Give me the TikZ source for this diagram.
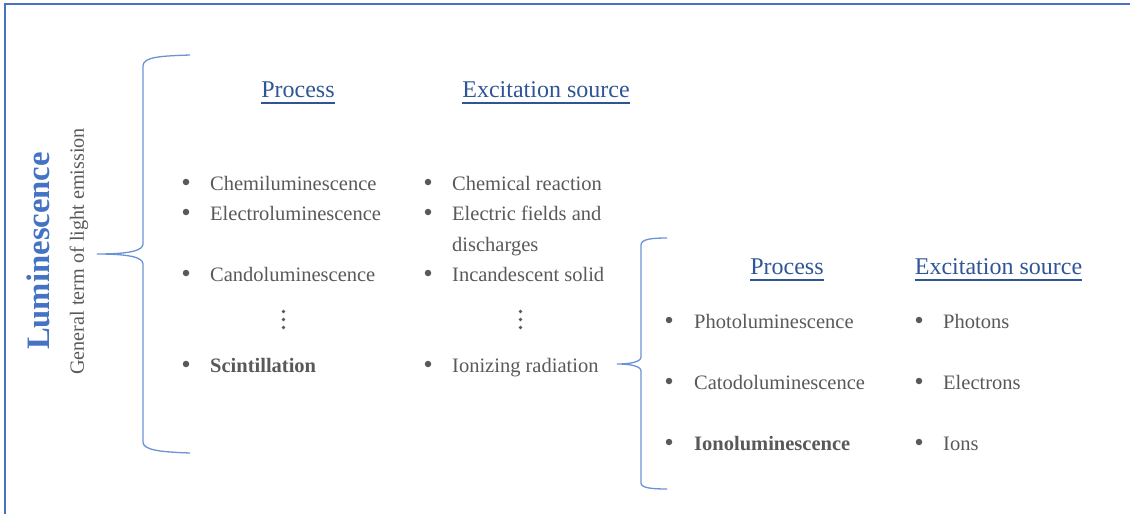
\documentclass[tikz,border=0pt]{standalone}
\usepackage{fontspec}
\setmainfont{Liberation Serif}
\definecolor{gtext}{HTML}{595959}
\definecolor{hblue}{HTML}{2F5597}
\definecolor{lblue}{HTML}{4472C4}
\definecolor{bblue}{HTML}{6C92D6}
\begin{document}
\begin{tikzpicture}[x=1pt,y=-1pt,
  txt/.style={font=\fontsize{20.5}{24}\selectfont, text=gtext, inner sep=0pt, anchor=base west},
  btxt/.style={txt, font=\fontsize{20.5}{24}\selectfont\bfseries},
  head/.style={font=\fontsize{24}{28}\selectfont, text=hblue, inner sep=0pt, anchor=base},
  bul/.style={circle, fill=gtext, inner sep=0pt, minimum size=6.5pt},
  vdot/.style={fill=gtext},
  brace/.style={draw=bblue, line width=1.3pt},
  uline/.style={draw=hblue, line width=2pt},
  frame/.style={draw=lblue, line width=2.2pt}]
\useasboundingbox (0,0) rectangle (1130,514);
\draw[frame] (5,514) -- (5,4) -- (1130,4);

% left titles
\node[font=\fontsize{32.7}{36}\selectfont\bfseries, text=lblue, rotate=90, inner sep=0pt] (lum) at (38,251) {Luminescence};
\node[font=\fontsize{20.2}{24}\selectfont, text=gtext, rotate=90, inner sep=0pt] (gen) at (79,251.5) {General term of light emission};

% left brace
\coordinate (lt) at (97,254);
\draw[brace] (190,55) .. controls (160,56) and (143,57) .. (143,66) -- (143,244)
  .. controls (143,251) and (128,254) .. (lt)
  .. controls (128,254) and (143,257) .. (143,264) -- (143,442)
  .. controls (143,450) and (160,452) .. (190,453);

% headings
\node[head] (hp1) at (298,97) {Process};
\node[head] (he1) at (546,97) {Excitation source};
\draw[uline] ([yshift=-6pt]hp1.base west) -- ([yshift=-6pt]hp1.base east);
\draw[uline] ([yshift=-6pt]he1.base west) -- ([yshift=-6pt]he1.base east);

% left column
\node[bul] (a1) at (186,182) {}; \node[txt] (ta1) at (210,190) {Chemiluminescence};
\node[bul] (a2) at (186,212) {}; \node[txt] (ta2) at (210,220) {Electroluminescence};
\node[bul] (a3) at (186,273) {}; \node[txt] (ta3) at (210,281) {Candoluminescence};
\foreach \yy in {311.5,319.5,327.5} \fill[vdot] (283.5,\yy) circle (1.9pt);
\node[bul] (a4) at (186,364) {}; \node[btxt] (ta4) at (210,372) {Scintillation};

% middle column
\node[bul] (m1) at (428,182) {}; \node[txt] (tm1) at (452,190) {Chemical reaction};
\node[bul] (m2) at (428,212) {}; \node[txt] (tm2) at (452,220) {Electric fields and};
\node[txt] (tm2b) at (452,251) {discharges};
\node[bul] (m3) at (428,273) {}; \node[txt] (tm3) at (452,281) {Incandescent solid};
\foreach \yy in {311.5,319.5,327.5} \fill[vdot] (520.5,\yy) circle (1.9pt);
\node[bul] (m4) at (428,364) {}; \node[txt] (tm4) at (452,372) {Ionizing radiation};

% right brace
\coordinate (rt) at (617,364);
\draw[brace] (667,238) .. controls (652,238) and (641,239) .. (641,245) -- (641,357)
  .. controls (641,362) and (630,364) .. (rt)
  .. controls (630,364) and (641,366) .. (641,371) -- (641,483)
  .. controls (641,488) and (652,489) .. (667,489);

% right headings
\node[head] (hp2) at (787,274) {Process};
\node[head] (he2) at (998.5,274) {Excitation source};
\draw[uline] ([yshift=-6pt]hp2.base west) -- ([yshift=-6pt]hp2.base east);
\draw[uline] ([yshift=-6pt]he2.base west) -- ([yshift=-6pt]he2.base east);

% right columns
\node[bul] (r1) at (669,320) {}; \node[txt] (tr1) at (694,328) {Photoluminescence};
\node[bul] (r2) at (669,381) {}; \node[txt] (tr2) at (694,389) {Catodoluminescence};
\node[bul] (r3) at (669,442) {}; \node[btxt] (tr3) at (694,450) {Ionoluminescence};
\node[bul] (s1) at (919,320) {}; \node[txt] (ts1) at (943,328) {Photons};
\node[bul] (s2) at (919,381) {}; \node[txt] (ts2) at (943,389) {Electrons};
\node[bul] (s3) at (919,442) {}; \node[txt] (ts3) at (943,450) {Ions};
\end{tikzpicture}
\end{document}
